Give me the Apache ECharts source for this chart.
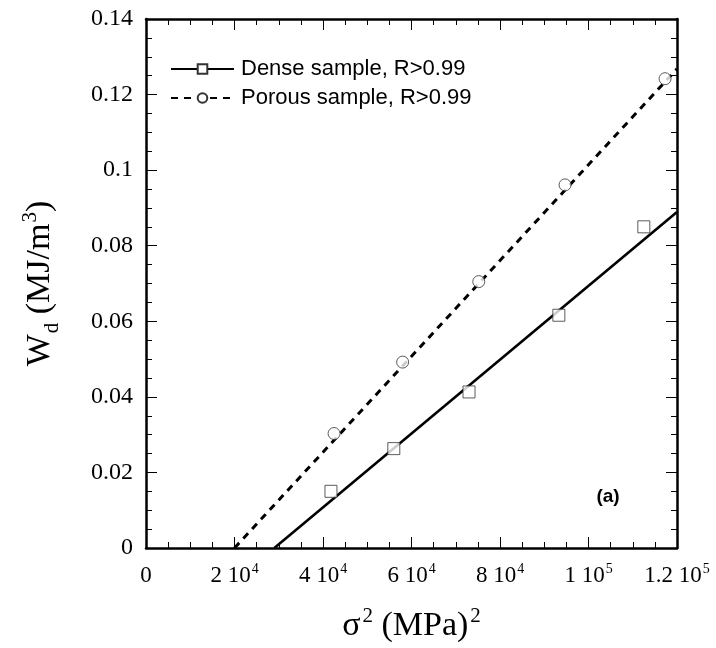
<!DOCTYPE html>
<html><head><meta charset="utf-8">
<script src="https://cdn.jsdelivr.net/npm/echarts@6/dist/echarts.min.js"></script>
<style>html,body{margin:0;padding:0;background:#fff}#c{width:716px;height:648px}</style>
</head><body><div id="c"></div>
<script>
// Data
const denseX = [41800, 56000, 73000, 93300, 112500];
const denseY = [0.0150, 0.0263, 0.0413, 0.0616, 0.0850];
const porousX = [42500, 58000, 75200, 94700, 117300];
const porousY = [0.0303, 0.0492, 0.0705, 0.0961, 0.1242];
// Linear fits (end points)
const denseFitX = [29000, 120000];
const denseFitY = [0, 0.0889];
const porousFitX = [20000, 120000];
const porousFitY = [0, 0.1268];
const xTickLabels = {0:'0', 20000:'2 10^4', 40000:'4 10^4', 60000:'6 10^4', 80000:'8 10^4', 100000:'1 10^5', 120000:'1.2 10^5'};
const yTickLabels = {0:'0', 0.02:'0.02', 0.04:'0.04', 0.06:'0.06', 0.08:'0.08', 0.1:'0.1', 0.12:'0.12', 0.14:'0.14'};
const legendNames = ['Dense sample, R>0.99', 'Porous sample, R>0.99'];

const zip = (a, b) => a.map((v, i) => [v, b[i]]);
const serif = 'Liberation Serif';

function xFmt(v) {
  const key = Math.round(v);
  const s = xTickLabels[key];
  if (s === undefined) return '';
  if (s.indexOf('^') < 0) return '{a|' + s + '}';
  const p = s.split('^');
  return '{a|' + p[0] + '}{s|' + p[1] + '}';
}
function yFmt(v) {
  const key = Math.round(v * 100) / 100;
  const s = yTickLabels[key];
  return s === undefined ? '' : s;
}

const axisCommon = {
  axisLine: {show: true, onZero: false, lineStyle: {color: '#000', width: 2.5}},
  axisTick: {show: true, inside: true, length: 11, lineStyle: {color: '#000', width: 1}},
  minorTick: {show: true, splitNumber: 4, length: 6, lineStyle: {color: '#000', width: 1}},
  splitLine: {show: false}
};

const chart = echarts.init(document.getElementById('c'), null, {renderer: 'canvas'});
chart.setOption({
  animation: false,
  backgroundColor: '#fff',
  grid: {left: 146, right: 39, top: 19, bottom: 97, containLabel: false},
  legend: {
    data: legendNames,
    orient: 'vertical',
    left: 165, top: 53,
    itemWidth: 63, itemHeight: 12, itemGap: 7,
    textStyle: {fontFamily: 'Liberation Sans', fontSize: 22, lineHeight: 22, color: '#000', padding: [0,0,0,2]},
    selectedMode: false
  },
  xAxis: [
    Object.assign({
      type: 'value', min: 0, max: 120000, interval: 20000, position: 'bottom',
      name: '{a|σ}{s|2}{a| (MPa)}{s|2}', nameLocation: 'middle', nameGap: 55,
      nameTextStyle: {rich: {
        a: {fontFamily: serif, fontSize: 34, color: '#000', verticalAlign: 'bottom', lineHeight: 40},
        s: {fontFamily: serif, fontSize: 21, color: '#000', verticalAlign: 'bottom', lineHeight: 40, padding: [0,0,16,2]}
      }},
      axisLabel: {margin: 13, formatter: xFmt, rich: {
        a: {fontFamily: serif, fontSize: 23, color: '#000', verticalAlign: 'bottom', lineHeight: 26},
        s: {fontFamily: serif, fontSize: 14, color: '#000', verticalAlign: 'bottom', lineHeight: 26, padding: [0,0,11,1]}
      }}
    }, axisCommon),
    Object.assign({
      type: 'value', min: 0, max: 120000, interval: 20000, position: 'top',
      axisLabel: {show: false}
    }, axisCommon)
  ],
  yAxis: [
    Object.assign({
      type: 'value', min: 0, max: 0.14, interval: 0.02, position: 'left',
      name: '{a|W}{d|d}{a| (MJ/m}{s|3}{a|)}', nameLocation: 'middle', nameGap: 89,
      nameTextStyle: {rich: {
        a: {fontFamily: serif, fontSize: 34, color: '#000', verticalAlign: 'bottom', lineHeight: 40},
        d: {fontFamily: serif, fontSize: 21, color: '#000', verticalAlign: 'bottom', lineHeight: 40, padding: [0,0,-6,1]},
        s: {fontFamily: serif, fontSize: 21, color: '#000', verticalAlign: 'bottom', lineHeight: 40, padding: [0,0,16,1]}
      }},
      axisLabel: {margin: 13, formatter: yFmt, fontFamily: serif, fontSize: 24, color: '#000'}
    }, axisCommon),
    Object.assign({
      type: 'value', min: 0, max: 0.14, interval: 0.02, position: 'right',
      axisLabel: {show: false}
    }, axisCommon)
  ],
  graphic: [{
    type: 'text', x: 608, y: 497,
    style: {text: '(a)', font: 'bold 19px "Liberation Sans"', fill: '#000', align: 'center', verticalAlign: 'middle'}
  }],
  series: [
    {
      name: legendNames[0], type: 'line', xAxisIndex: 0, yAxisIndex: 0,
      data: zip(denseFitX, denseFitY).map(p => ({value: p, symbol: 'none'})),
      symbol: 'rect', symbolSize: 12,
      itemStyle: {color: '#fff', borderColor: '#333', borderWidth: 1},
      lineStyle: {color: '#000', width: 2.6, type: 'solid'},
      z: 2
    },
    {
      name: legendNames[1], type: 'line', xAxisIndex: 0, yAxisIndex: 0,
      data: zip(porousFitX, porousFitY).map(p => ({value: p, symbol: 'none'})),
      symbol: 'circle', symbolSize: 12,
      itemStyle: {color: '#fff', borderColor: '#333', borderWidth: 1},
      lineStyle: {color: '#000', width: 3, type: [7, 6]},
      z: 2
    },
    {
      name: 'dense points', type: 'scatter', data: zip(denseX, denseY),
      symbol: 'rect', symbolSize: 12,
      itemStyle: {color: '#fff', borderColor: '#333', borderWidth: 1}, z: 3
    },
    {
      name: 'porous points', type: 'scatter', data: zip(porousX, porousY),
      symbol: 'circle', symbolSize: 12,
      itemStyle: {color: '#fff', borderColor: '#333', borderWidth: 1}, z: 3
    }
  ]
});
</script></body></html>
